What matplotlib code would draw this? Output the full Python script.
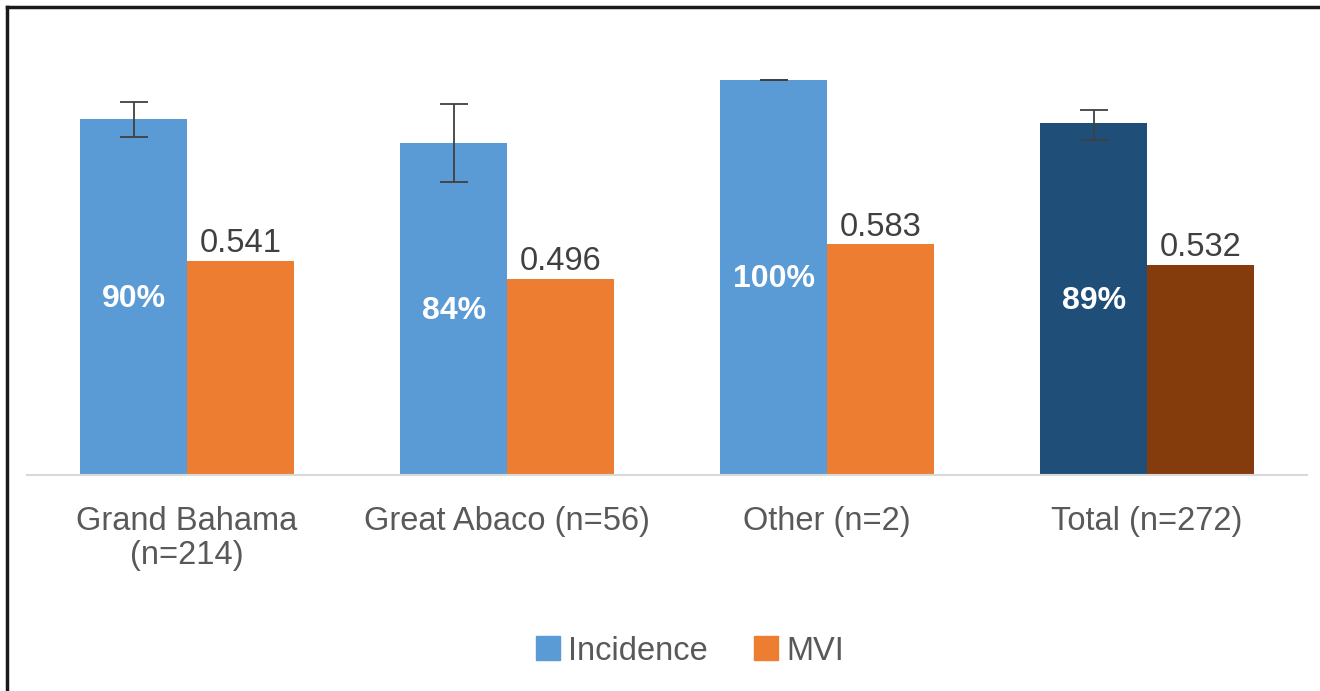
import matplotlib
matplotlib.use("Agg")
import matplotlib.pyplot as plt
from matplotlib.lines import Line2D
from matplotlib.patches import Patch
import numpy as np

categories = ["Grand Bahama\n(n=214)", "Great Abaco (n=56)", "Other (n=2)", "Total (n=272)"]
incidence = [0.90, 0.84, 1.00, 0.89]
incidence_err_low = [0.046, 0.10, 0.0, 0.043]
incidence_err_high = [0.042, 0.098, 0.0, 0.034]
incidence_labels = ["90%", "84%", "100%", "89%"]
mvi = [0.541, 0.496, 0.583, 0.532]
mvi_labels = ["0.541", "0.496", "0.583", "0.532"]

inc_colors = ["#5B9BD5", "#5B9BD5", "#5B9BD5", "#1F4E79"]
mvi_colors = ["#ED7D31", "#ED7D31", "#ED7D31", "#843C0C"]

plt.rcParams['font.family'] = ['Liberation Sans', 'DejaVu Sans']

W, H = 1320, 691
fig = plt.figure(figsize=(W/100, H/100), dpi=100)
ax = fig.add_axes([27/W, (H-475)/H, 1280/W, 435/H])

x = np.arange(len(categories))
bw = 1/3
ax.bar(x - bw/2, incidence, width=bw, color=inc_colors, zorder=2)
ax.bar(x + bw/2, mvi, width=bw, color=mvi_colors, zorder=2)
ax.errorbar(x - bw/2, incidence, yerr=[incidence_err_low, incidence_err_high],
            fmt='none', ecolor='#404040', elinewidth=1.3, capsize=10, capthick=1.3, zorder=3)

for xi, v, lab in zip(x, incidence, incidence_labels):
    ax.text(xi - bw/2, v/2 - 0.005, lab, ha='center', va='center', color='white',
            fontsize=23, fontweight='bold', zorder=4)
for xi, v, lab in zip(x, mvi, mvi_labels):
    ax.text(xi + bw/2, v + 0.004, lab, ha='center', va='bottom', color='#404040',
            fontsize=23.5, zorder=4)

ax.set_xlim(-0.5, 3.5)
ax.set_ylim(0, 1.1)
ax.set_xticks(x)
ax.set_xticklabels(categories, fontsize=23.5, color='#595959', linespacing=1.15)
ax.tick_params(axis='x', length=0, pad=22)
ax.set_yticks([])
for s in ['top', 'right', 'left']:
    ax.spines[s].set_visible(False)
ax.spines['bottom'].set_color('#D9D9D9')
ax.spines['bottom'].set_linewidth(1.5)

handles = [Patch(color="#5B9BD5", label="Incidence"), Patch(color="#ED7D31", label="MVI")]
fig.legend(handles=handles, loc='center', bbox_to_anchor=(690/W, 1-651/H), ncol=2,
           frameon=False, fontsize=23.5, handlelength=0.75, handleheight=0.75,
           handletextpad=0.25, columnspacing=1.4, labelcolor='#595959')

# partial frame (top and left edges)
fig.add_artist(Line2D([7/W, 7/W], [0, 1-7/H], transform=fig.transFigure, color='#1a1a1a', lw=2.5))
fig.add_artist(Line2D([7/W, 1], [1-7/H, 1-7/H], transform=fig.transFigure, color='#1a1a1a', lw=2.5))

fig.savefig("out.png", dpi=100)
